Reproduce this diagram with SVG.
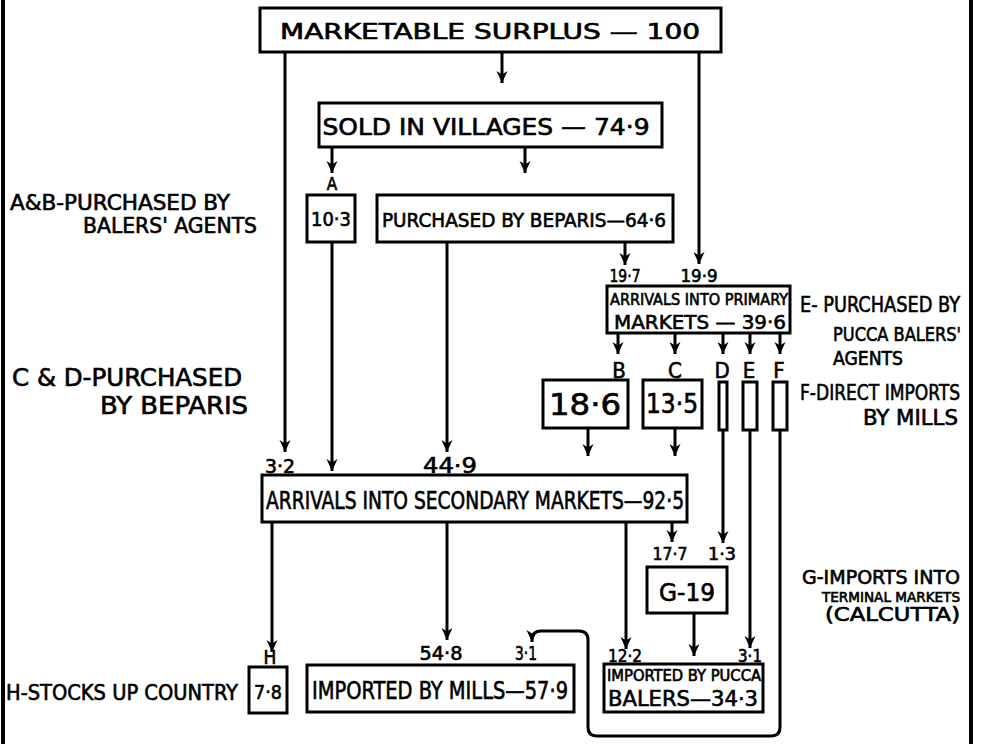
<svg xmlns="http://www.w3.org/2000/svg" width="996" height="744" viewBox="0 0 996 744">
<defs>
<marker id="ah" markerWidth="12" markerHeight="14" refX="12" refY="6" orient="auto" markerUnits="userSpaceOnUse" viewBox="0 0 12 12">
<path d="M0,0.5 L12,6 L0,11.5 L3.5,6 Z" fill="#000"/>
</marker>
</defs>
<style>
.bx{fill:#fff;stroke:#000;stroke-width:3}
.ln{fill:none;stroke:#000;stroke-width:3}
.ar{fill:none;stroke:#000;stroke-width:3;marker-end:url(#ah)}
text{font-family:"DejaVu Sans Condensed","DejaVu Sans","Liberation Sans",sans-serif;font-weight:normal;fill:#000;stroke:#000;stroke-width:0.6}
.m{text-anchor:middle}
.edge{stroke:#000;stroke-width:4}
</style>
<rect width="996" height="744" fill="#fff"/>
<line class="edge" x1="3" y1="0" x2="3" y2="744"/>
<line class="edge" x1="971" y1="0" x2="971" y2="744"/>

<g id="connectors">
<line class="ar" x1="502" y1="52" x2="502" y2="83"/>
<line class="ar" x1="285" y1="52" x2="285" y2="452"/>
<line class="ar" x1="699" y1="52" x2="699" y2="264"/>
<line class="ar" x1="332" y1="147" x2="332" y2="173"/>
<line class="ar" x1="525" y1="147" x2="525" y2="173"/>
<line class="ar" x1="332" y1="242" x2="332" y2="471"/>
<line class="ar" x1="447" y1="242" x2="447" y2="452"/>
<line class="ar" x1="625" y1="242" x2="625" y2="265"/>
<line class="ar" x1="618" y1="333" x2="618" y2="354"/>
<line class="ar" x1="675" y1="333" x2="675" y2="354"/>
<line class="ar" x1="723" y1="333" x2="723" y2="354"/>
<line class="ar" x1="750" y1="333" x2="750" y2="354"/>
<line class="ar" x1="780" y1="333" x2="780" y2="354"/>
<line class="ar" x1="588" y1="428" x2="588" y2="456"/>
<line class="ar" x1="675" y1="428" x2="675" y2="456"/>
<line class="ar" x1="723" y1="430" x2="723" y2="543"/>
<line class="ar" x1="750" y1="430" x2="750" y2="648"/>
<path class="ar" d="M780,430 V727 Q780,736 771,736 H597 Q588,736 588,727 V640 Q588,631 579,631 H541 Q532,631 532,640 V642"/>
<line class="ar" x1="272" y1="522" x2="272" y2="652"/>
<line class="ar" x1="447" y1="522" x2="447" y2="640"/>
<line class="ar" x1="626" y1="522" x2="626" y2="649"/>
<line class="ar" x1="672" y1="522" x2="672" y2="542"/>
<line class="ar" x1="694" y1="613" x2="694" y2="656"/>
</g>

<g id="n-surplus">
<rect class="bx" x="260" y="8" width="461" height="44"/>
<text class="m" x="490" y="39" font-size="21" textLength="420" lengthAdjust="spacingAndGlyphs">MARKETABLE  SURPLUS  —  100</text>
</g>
<g id="n-villages">
<rect class="bx" x="319" y="103" width="343" height="44"/>
<text class="m" x="486" y="135" font-size="23" textLength="327" lengthAdjust="spacingAndGlyphs">SOLD IN VILLAGES — 74·9</text>
</g>
<g id="n-a">
<text class="m" x="332" y="190" font-size="17">A</text>
<rect class="bx" x="307" y="195" width="48" height="47"/>
<text class="m" x="331" y="226" font-size="20" textLength="40" lengthAdjust="spacingAndGlyphs">10·3</text>
</g>
<g id="n-beparis">
<rect class="bx" x="377" y="195" width="296" height="47"/>
<text class="m" x="524" y="227" font-size="20" textLength="284" lengthAdjust="spacingAndGlyphs">PURCHASED BY BEPARIS—64·6</text>
</g>
<g id="n-primary">
<text class="m" x="625" y="282" font-size="18" textLength="31" lengthAdjust="spacingAndGlyphs">19·7</text>
<text class="m" x="699" y="282" font-size="18" textLength="37" lengthAdjust="spacingAndGlyphs">19·9</text>
<rect class="bx" x="607" y="286" width="183" height="47"/>
<text class="m" x="699" y="305" font-size="16" textLength="178" lengthAdjust="spacingAndGlyphs">ARRIVALS INTO PRIMARY</text>
<text class="m" x="700" y="329" font-size="20" textLength="172" lengthAdjust="spacingAndGlyphs">MARKETS — 39·6</text>
</g>
<g id="n-b">
<text class="m" x="619" y="378" font-size="22">B</text>
<rect class="bx" x="543" y="380" width="85" height="48"/>
<text class="m" x="585" y="415" font-size="30" textLength="72" lengthAdjust="spacingAndGlyphs">18·6</text>
</g>
<g id="n-c">
<text class="m" x="675" y="378" font-size="22">C</text>
<rect class="bx" x="643" y="380" width="59" height="48"/>
<text class="m" x="672" y="413" font-size="26" textLength="52" lengthAdjust="spacingAndGlyphs">13·5</text>
</g>
<g id="n-d">
<text class="m" x="722" y="378" font-size="22">D</text>
<rect class="bx" x="719" y="382" width="8" height="48"/>
</g>
<g id="n-e">
<text class="m" x="749" y="378" font-size="22">E</text>
<rect class="bx" x="743" y="382" width="14" height="48"/>
</g>
<g id="n-f">
<text class="m" x="779" y="378" font-size="22">F</text>
<rect class="bx" x="773" y="382" width="14" height="48"/>
</g>
<g id="n-secondary">
<text class="m" x="280" y="473" font-size="19" textLength="30" lengthAdjust="spacingAndGlyphs">3·2</text>
<text class="m" x="450" y="473" font-size="22" textLength="54" lengthAdjust="spacingAndGlyphs">44·9</text>
<rect class="bx" x="262" y="475" width="425" height="47"/>
<text class="m" x="475" y="509" font-size="24" textLength="418" lengthAdjust="spacingAndGlyphs">ARRIVALS INTO SECONDARY MARKETS—92·5</text>
</g>
<g id="n-g">
<text class="m" x="670" y="560" font-size="17" textLength="35" lengthAdjust="spacingAndGlyphs">17·7</text>
<text class="m" x="722" y="560" font-size="17" textLength="28" lengthAdjust="spacingAndGlyphs">1·3</text>
<rect class="bx" x="647" y="567" width="80" height="46"/>
<text class="m" x="687" y="601" font-size="25" textLength="56" lengthAdjust="spacingAndGlyphs">G-19</text>
</g>
<g id="n-pucca">
<text class="m" x="625" y="662" font-size="17" textLength="34" lengthAdjust="spacingAndGlyphs">12·2</text>
<text class="m" x="750" y="662" font-size="17" textLength="24" lengthAdjust="spacingAndGlyphs">3·1</text>
<rect class="bx" x="604" y="664" width="159" height="48"/>
<text class="m" x="684" y="681" font-size="15" textLength="154" lengthAdjust="spacingAndGlyphs">IMPORTED BY PUCCA</text>
<text class="m" x="683" y="706" font-size="22" textLength="150" lengthAdjust="spacingAndGlyphs">BALERS—34·3</text>
</g>
<g id="n-mills">
<text class="m" x="441" y="660" font-size="20" textLength="43" lengthAdjust="spacingAndGlyphs">54·8</text>
<text class="m" x="526" y="660" font-size="20" textLength="22" lengthAdjust="spacingAndGlyphs">3·1</text>
<rect class="bx" x="307" y="665" width="267" height="47"/>
<text class="m" x="440" y="699" font-size="24" textLength="256" lengthAdjust="spacingAndGlyphs">IMPORTED BY MILLS—57·9</text>
</g>
<g id="n-h">
<text class="m" x="270" y="664" font-size="19">H</text>
<rect class="bx" x="249" y="667" width="38" height="46"/>
<text class="m" x="268" y="699" font-size="20" textLength="28" lengthAdjust="spacingAndGlyphs">7·8</text>
</g>

<g id="legend">
<text x="10" y="210" font-size="22" textLength="220" lengthAdjust="spacingAndGlyphs">A&amp;B-PURCHASED BY</text>
<text x="83" y="233" font-size="22" textLength="174" lengthAdjust="spacingAndGlyphs">BALERS' AGENTS</text>
<text x="12" y="386" font-size="24" textLength="230" lengthAdjust="spacingAndGlyphs">C &amp; D-PURCHASED</text>
<text x="100" y="414" font-size="24" textLength="148" lengthAdjust="spacingAndGlyphs">BY BEPARIS</text>
<text x="6" y="700" font-size="22" textLength="232" lengthAdjust="spacingAndGlyphs">H-STOCKS UP COUNTRY</text>
<text x="800" y="312" font-size="22" textLength="160" lengthAdjust="spacingAndGlyphs">E- PURCHASED BY</text>
<text x="833" y="341" font-size="20" textLength="128" lengthAdjust="spacingAndGlyphs">PUCCA BALERS'</text>
<text x="833" y="365" font-size="19" textLength="70" lengthAdjust="spacingAndGlyphs">AGENTS</text>
<text x="800" y="400" font-size="22" textLength="160" lengthAdjust="spacingAndGlyphs">F-DIRECT IMPORTS</text>
<text x="863" y="425" font-size="22" textLength="95" lengthAdjust="spacingAndGlyphs">BY MILLS</text>
<text x="802" y="584" font-size="20" textLength="158" lengthAdjust="spacingAndGlyphs">G-IMPORTS INTO</text>
<text x="822" y="602" font-size="14" textLength="138" lengthAdjust="spacingAndGlyphs">TERMINAL MARKETS</text>
<text x="825" y="621" font-size="19" textLength="135" lengthAdjust="spacingAndGlyphs">(CALCUTTA)</text>
</g>
</svg>
